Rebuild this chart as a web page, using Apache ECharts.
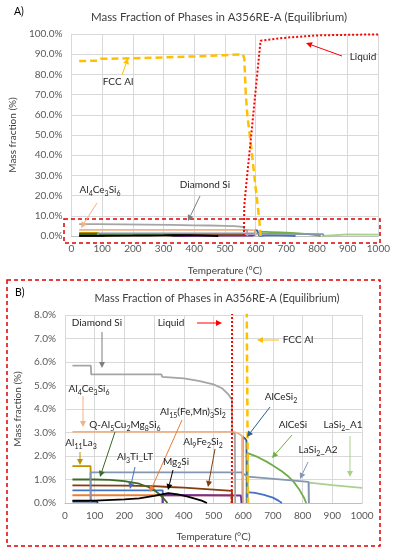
<!DOCTYPE html>
<html><head><meta charset="utf-8">
<script src="https://cdn.jsdelivr.net/npm/echarts@6/dist/echarts.min.js"></script>
<style>html,body{margin:0;padding:0;background:#fff}#c{width:393px;height:550px}</style>
</head><body><div id="c"></div>
<script>
// ---- data (temperature °C, mass fraction %) ----
const fccAl = [[25,86.6],[88,86.8],[95,87.7],[200,88.0],[300,88.4],[400,88.9],[500,89.5],[558,90.0],[563,88],[568,70],[573,60],[587,42],[600,24],[612,8],[616,0]];
const liquid = [[561,0],[562,1],[563,15],[573,31],[587,52],[616,96.7],[700,98.2],[800,99.3],[900,99.6],[1000,99.8]];
const diamondSi = [[25,5.85],[87,5.85],[88,5.47],[325,5.47],[327,5.37],[400,5.3],[450,5.2],[500,5.05],[530,4.87],[550,4.62],[562,4.4],[563,3.0],[572,2.95],[573,0]];
const al4ce3si6 = [[25,3.03],[560,3.03],[575,3.0],[588,2.93],[598,2.82],[600,0]];
const alcesi2 = [[598,0],[598,2.82],[605,2.76],[611,2.66],[612,0]];
const alcesi = [[615,0],[615,2.12],[650,1.95],[680,1.75],[700,1.6],[730,1.35],[750,1.15],[770,0.9],[790,0.55],[805,0.22],[812,0]];
const lasi2A2 = [[86,0],[86,1.3],[595,1.3],[615,1.12],[820,0.9],[821,0]];
const lasi2A1 = [[821,0],[821,0.87],[900,0.76],[1000,0.64]];
const qPhase = [[25,1.0],[100,1.0],[150,0.98],[200,0.93],[250,0.82],[280,0.68],[300,0.55],[320,0.35],[335,0.15],[345,0]];
const al15FeMn3Si2 = [[25,0.33],[560,0.33],[562,0]];
const al9Fe2Si2 = [[25,0.75],[200,0.74],[300,0.72],[350,0.68],[400,0.65],[450,0.61],[500,0.57],[562,0.52],[563,0]];
const al3TiLT = [[25,0.54],[329,0.54],[330,0]];
const al3TiHigh = [[612,0],[612,0.46],[640,0.43],[670,0.35],[700,0.23],[720,0.09],[730,0]];
const mg2Si = [[25,0.1],[100,0.1],[200,0.15],[250,0.2],[300,0.3],[330,0.38],[348,0.42],[380,0.37],[410,0.28],[440,0.18],[460,0.1],[478,0]];
const purplePhase = [[328,0],[328,0.34],[592,0.32],[594,0]];
const al11La3 = [[25,1.57],[86,1.57],[87,0]];
const navyPhase = [[25,0.06],[108,0.06],[110,0]];
const xTicks = {min:0, max:1000, step:100};
const yTicksA = {min:0, max:100, step:10};
const yTicksB = {min:0, max:8, step:1};

const FONT = 'Lato, "Open Sans", sans-serif';
const phases = [
  {name:'AlCeSi2', data:alcesi2, color:'#2E5C9A', w:1.8},
  {name:'Al11La3', data:al11La3, color:'#BF9000', w:1.8},
  {name:'Navy', data:navyPhase, color:'#1F3864', w:1.8},
  {name:'LaSi2_A1', data:lasi2A1, color:'#A9D18E', w:1.8},
  {name:'AlCeSi', data:alcesi, color:'#70AD47', w:1.8},
  {name:'Al3Ti high', data:al3TiHigh, color:'#4472C4', w:1.8},
  {name:'Al3Ti_LT', data:al3TiLT, color:'#4472C4', w:1.8},
  {name:'Al15(Fe,Mn)3Si2', data:al15FeMn3Si2, color:'#ED7D31', w:1.8},
  {name:'Purple', data:purplePhase, color:'#7030A0', w:1.8},
  {name:'Al9Fe2Si2', data:al9Fe2Si2, color:'#843C0C', w:1.8},
  {name:'Q', data:qPhase, color:'#3B6B26', w:1.8},
  {name:'LaSi2_A2', data:lasi2A2, color:'#8497B0', w:1.8},
  {name:'Mg2Si', data:mg2Si, color:'#000000', w:1.8},
  {name:'Al4Ce3Si6', data:al4ce3si6, color:'#F4B183', w:1.8},
  {name:'Diamond Si', data:diamondSi, color:'#A5A5A5', w:1.8},
  {name:'FCC Al', data:fccAl, color:'#FFC000', w:2.5, type:[7,4]},
  {name:'Liquid', data:liquid, color:'#FF0000', w:2, type:[2,2]}
];

const series = [];
[0,1].forEach(g => phases.forEach(p => series.push({
  type:'line', name:p.name, xAxisIndex:g, yAxisIndex:g, data:p.data,
  showSymbol:false, symbol:'none', clip:true, animation:false,
  lineStyle:{color:p.color, width:p.w, type:p.type || 'solid'}
})));

const axisLbl = {color:'#595959', fontSize:10, fontFamily:FONT};
function xAxis(g){ return {type:'value', gridIndex:g, min:xTicks.min, max:xTicks.max, interval:xTicks.step,
  name:'Temperature (°C)', nameLocation:'middle', nameGap:g===0?30:29,
  nameTextStyle:{color:'#404040', fontSize:10, fontFamily:FONT},
  axisLine:{show:true, lineStyle:{color:'#BFBFBF'}}, axisTick:{show:false},
  axisLabel:Object.assign({margin:8, formatter:v=>String(v)}, axisLbl),
  splitLine:{show:true, lineStyle:{color:'#D9D9D9', width:1}}}; }
function yAxis(g, t){ return {type:'value', gridIndex:g, min:t.min, max:t.max, interval:t.step,
  name:'Mass fraction (%)', nameLocation:'middle', nameGap:g===0?50:40,
  nameTextStyle:{color:'#404040', fontSize:10, fontFamily:FONT},
  axisLine:{show:false}, axisTick:{show:false},
  axisLabel:Object.assign({margin:9, formatter:v=>v.toFixed(1)+'%'}, axisLbl),
  splitLine:{show:true, lineStyle:{color:'#D9D9D9', width:1}}}; }

function richText(str){ let out='', re=/_\{([^}]*)\}/g, last=0, m;
  while((m=re.exec(str))){ if(m.index>last) out+='{n|'+str.slice(last,m.index)+'}'; out+='{s|'+m[1]+'}'; last=re.lastIndex; }
  if(last<str.length) out+='{n|'+str.slice(last)+'}'; return out; }
function label(str, x, y, size){ size=size||10; return {type:'text', x, y, z:100, silent:true, style:{
  text:richText(str), align:'center', verticalAlign:'middle', fill:'#262626',
  rich:{n:{fontSize:size, fontFamily:FONT, fill:'#262626', lineHeight:14, verticalAlign:'middle'},
        s:{fontSize:size*0.7, fontFamily:FONT, fill:'#262626', verticalAlign:'bottom', lineHeight:14, padding:[6,0,0,0]}}}}; }
function arrow(from, to, color){ const dx=to[0]-from[0], dy=to[1]-from[1], L=Math.hypot(dx,dy), ux=dx/L, uy=dy/L;
  const h=6, w=3, bx=to[0]-ux*h, by=to[1]-uy*h;
  return [{type:'line', z:100, silent:true, shape:{x1:from[0],y1:from[1],x2:bx,y2:by}, style:{stroke:color, lineWidth:1}},
          {type:'polygon', z:100, silent:true, shape:{points:[[to[0],to[1]],[bx-uy*w,by+ux*w],[bx+uy*w,by-ux*w]]}, style:{fill:color}}]; }

const notes = [
  // chart A
  ['FCC Al',118,82,[122,75],[128,58],'#FFC000'],
  ['Liquid',363,57,[342,56],[306,43],'#FF0000'],
  ['Al_{4}Ce_{3}Si_{6}',100,190,[97,203],[81,228],'#F4B183'],
  ['Diamond Si',205,185,[200,196],[188,221],'#7F7F7F'],
  // chart B
  ['Diamond Si',97,323,[102,332],[102,368],'#7F7F7F'],
  ['Liquid',171,323,[197,323],[222,323],'#FF0000'],
  ['FCC Al',298,340,[279,340],[257,340],'#FFC000'],
  ['Al_{4}Ce_{3}Si_{6}',89,389,[83,396],[83,427],'#F4B183'],
  ['Q-Al_{5}Cu_{2}Mg_{8}Si_{6}',125,425,[115,432],[100,477],'#3B6B26'],
  ['Al_{15}(Fe,Mn)_{3}Si_{2}',193,412,[182,420],[150,492],'#ED7D31'],
  ['AlCeSi_{2}',281,397,[270,407],[247,437],'#2E5C9A'],
  ['AlCeSi',293,425,[292,435],[272,458],'#70AD47'],
  ['LaSi_{2}_A1',343,425,[350,436],[350,477],'#A9D18E'],
  ['LaSi_{2}_A2',318,450,[308,462],[300,479],'#8497B0'],
  ['Al_{11}La_{3}',81,443,[80,452],[80,465],'#BF9000'],
  ['Al_{3}Ti_LT',135,457,[135,467],[130,489],'#4472C4'],
  ['Mg_{2}Si',176,462,[173,470],[168,490],'#000000'],
  ['Al_{9}Fe_{2}Si_{2}',203,442,[215,449],[208,487],'#843C0C']
];

const graphics = [
  {type:'text', x:219, y:17, z:100, style:{text:'Mass Fraction of Phases in A356RE-A (Equilibrium)', align:'center', verticalAlign:'middle', fill:'#404040', fontSize:11.5, fontFamily:FONT}},
  {type:'text', x:217, y:298, z:100, style:{text:'Mass Fraction of Phases in A356RE-A (Equilibrium)', align:'center', verticalAlign:'middle', fill:'#404040', fontSize:11, fontFamily:FONT}},
  {type:'text', x:14, y:12, z:100, style:{text:'A)', align:'left', verticalAlign:'middle', fill:'#000', fontSize:10.5, fontFamily:FONT}},
  {type:'text', x:15, y:293, z:100, style:{text:'B)', align:'left', verticalAlign:'middle', fill:'#000', fontSize:10.5, fontFamily:FONT}},
  {type:'rect', z:90, silent:true, shape:{x:64, y:219, width:316, height:24}, style:{fill:'none', stroke:'#E00000', lineWidth:1.5, lineDash:[4,3]}},
  {type:'rect', z:90, silent:true, shape:{x:7, y:280, width:373, height:266}, style:{fill:'none', stroke:'#E00000', lineWidth:1.5, lineDash:[4,3]}}
];
notes.forEach(n => { graphics.push(label(n[0], n[1], n[2])); graphics.push(...arrow(n[3], n[4], n[5])); });

const chart = echarts.init(document.getElementById('c'), null, {renderer:'canvas'});
chart.setOption({
  backgroundColor:'#ffffff', animation:false,
  grid:[{left:67, right:14, top:34, height:202}, {left:65, right:31, top:315, height:188}],
  xAxis:[xAxis(0), xAxis(1)],
  yAxis:[yAxis(0, yTicksA), yAxis(1, yTicksB)],
  series, graphic:graphics
});
</script></body></html>
